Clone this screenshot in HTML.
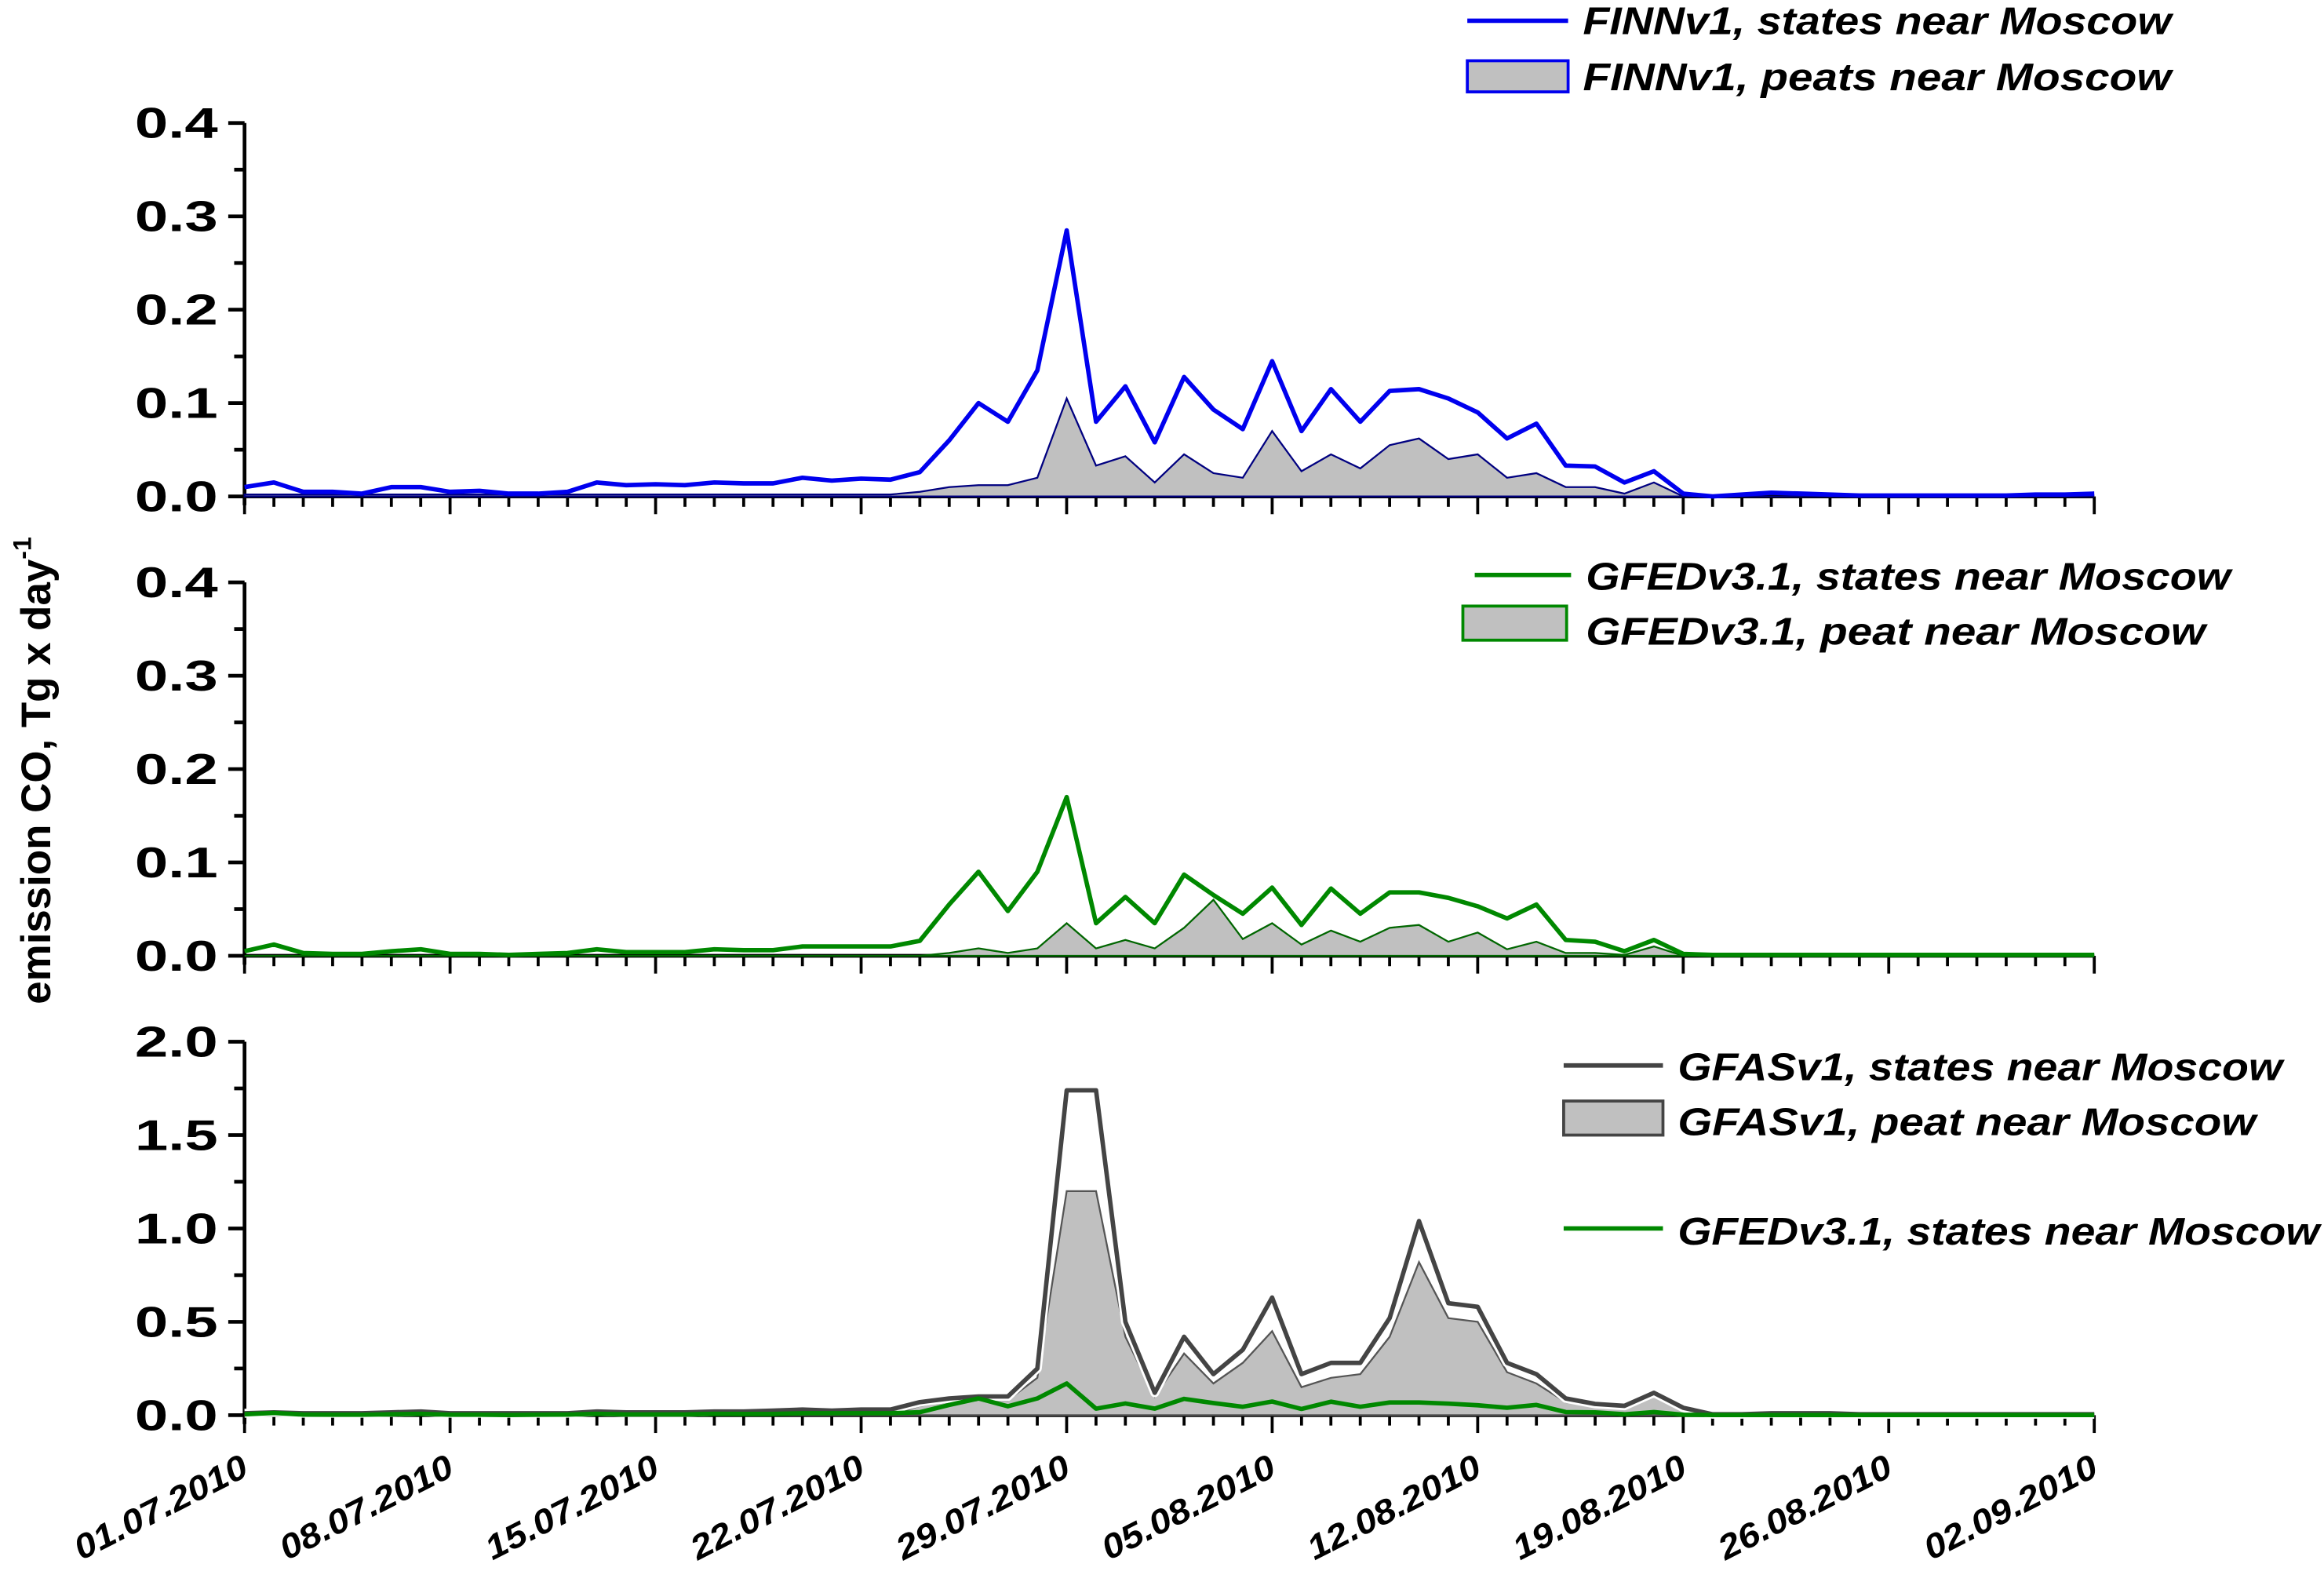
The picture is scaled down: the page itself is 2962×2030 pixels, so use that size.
<!DOCTYPE html>
<html><head><meta charset="utf-8"><style>
html,body{margin:0;padding:0;background:#fff}
svg{display:block}
text{font-family:"Liberation Sans",Arial,sans-serif;font-weight:bold}
</style></head><body>
<svg id="chart" width="2962" height="2030" viewBox="0 0 1568 1075" preserveAspectRatio="none" xmlns="http://www.w3.org/2000/svg">
<text transform="translate(34,520) rotate(-90)" text-anchor="middle" font-size="28">emission CO, Tg x day<tspan dy="-13" font-size="17">-1</tspan></text>
<g id="legends">
<line x1="990" y1="14" x2="1058" y2="14" stroke="#0000ee" stroke-width="3"/>
<text x="1068" y="23" font-size="26" font-style="italic" textLength="397" lengthAdjust="spacingAndGlyphs">FINNv1, states near Moscow</text>
<rect x="990" y="41" width="68" height="21" fill="#c0c0c0" stroke="#0000ee" stroke-width="2"/>
<text x="1068" y="61" font-size="26" font-style="italic" textLength="397" lengthAdjust="spacingAndGlyphs">FINNv1, peats  near Moscow</text>
<line x1="995" y1="388" x2="1060" y2="388" stroke="#008800" stroke-width="3"/>
<text x="1070" y="398" font-size="26" font-style="italic" textLength="435" lengthAdjust="spacingAndGlyphs">GFEDv3.1, states near Moscow</text>
<rect x="987" y="409" width="70" height="23" fill="#c0c0c0" stroke="#008800" stroke-width="2"/>
<text x="1070" y="435" font-size="26" font-style="italic" textLength="418" lengthAdjust="spacingAndGlyphs">GFEDv3.1,  peat near Moscow</text>
<line x1="1055" y1="719" x2="1122" y2="719" stroke="#444" stroke-width="3"/>
<text x="1132" y="729" font-size="26" font-style="italic" textLength="408" lengthAdjust="spacingAndGlyphs">GFASv1, states near Moscow</text>
<rect x="1055" y="743" width="67" height="23" fill="#c0c0c0" stroke="#444" stroke-width="2"/>
<text x="1132" y="766" font-size="26" font-style="italic" textLength="390" lengthAdjust="spacingAndGlyphs">GFASv1, peat  near Moscow</text>
<line x1="1055" y1="829" x2="1122" y2="829" stroke="#008800" stroke-width="3"/>
<text x="1132" y="840" font-size="26" font-style="italic" textLength="433" lengthAdjust="spacingAndGlyphs">GFEDv3.1, states near Moscow</text>
</g>
</svg>
<script>
const dateLabels=["01.07.2010","08.07.2010","15.07.2010","22.07.2010","29.07.2010","05.08.2010","12.08.2010","19.08.2010","26.08.2010","02.09.2010"];
const finnStates=[0.01,0.015,0.005,0.005,0.003,0.01,0.01,0.005,0.006,0.003,0.003,0.005,0.015,0.012,0.013,0.012,0.015,0.014,0.014,0.02,0.017,0.019,0.018,0.026,0.06,0.1,0.08,0.135,0.285,0.08,0.118,0.058,0.128,0.093,0.072,0.145,0.07,0.115,0.08,0.113,0.115,0.105,0.09,0.062,0.078,0.033,0.032,0.015,0.027,0.003,0,0.002,0.004,0.003,0.002,0.001,0.001,0.001,0.001,0.001,0.001,0.002,0.002,0.003];
const finnPeat=[0.002,0.002,0.002,0.002,0.002,0.002,0.002,0.002,0.002,0.002,0.002,0.002,0.002,0.002,0.002,0.002,0.002,0.002,0.002,0.002,0.002,0.002,0.002,0.005,0.01,0.012,0.012,0.02,0.105,0.033,0.043,0.015,0.045,0.025,0.02,0.07,0.027,0.045,0.03,0.055,0.062,0.04,0.045,0.02,0.025,0.01,0.01,0.003,0.015,0,0,0,0,0,0,0,0,0,0,0,0,0,0,0];
const gfedStates=[0.005,0.012,0.003,0.002,0.002,0.005,0.007,0.002,0.002,0.001,0.002,0.003,0.007,0.004,0.004,0.004,0.007,0.006,0.006,0.01,0.01,0.01,0.01,0.016,0.055,0.09,0.048,0.09,0.17,0.035,0.063,0.035,0.087,0.065,0.045,0.073,0.033,0.072,0.045,0.068,0.068,0.062,0.053,0.04,0.055,0.017,0.015,0.005,0.017,0.002,0.001,0.001,0.001,0.001,0.001,0.001,0.001,0.001,0.001,0.001,0.001,0.001,0.001,0.001];
const gfedPeat=[0,0,0,0,0,0,0,0,0,0,0,0,0,0,0,0,0,0,0,0,0,0,0,0,0.003,0.008,0.003,0.008,0.035,0.008,0.017,0.008,0.03,0.06,0.018,0.035,0.012,0.027,0.015,0.03,0.033,0.015,0.025,0.007,0.015,0.003,0.003,0.001,0.01,0,0,0,0,0,0,0,0,0,0,0,0,0,0,0];
const gfasStates=[0.01,0.015,0.01,0.01,0.01,0.015,0.02,0.01,0.01,0.01,0.01,0.01,0.02,0.015,0.015,0.015,0.02,0.02,0.025,0.03,0.025,0.03,0.03,0.07,0.09,0.1,0.1,0.25,1.74,1.74,0.5,0.12,0.42,0.22,0.35,0.63,0.22,0.28,0.28,0.52,1.04,0.6,0.58,0.28,0.22,0.09,0.06,0.05,0.12,0.04,0.005,0.005,0.01,0.01,0.01,0.005,0.005,0.005,0.005,0.005,0.005,0.005,0.005,0.005];
const gfasPeat=[0,0,0,0,0,0,0,0,0,0,0,0,0,0,0,0,0,0,0,0,0,0,0,0.05,0.07,0.08,0.08,0.2,1.2,1.2,0.42,0.1,0.33,0.17,0.28,0.45,0.15,0.2,0.22,0.42,0.82,0.52,0.5,0.23,0.17,0.07,0.05,0.04,0.1,0.03,0,0,0,0,0,0,0,0,0,0,0,0,0,0];
const yTicks1=["0.0","0.1","0.2","0.3","0.4"];
const yTicks3=["0.0","0.5","1.0","1.5","2.0"];

const NS="http://www.w3.org/2000/svg";
const svg=document.getElementById('chart');
const X0=165,X1=1413,NDAYS=63;
function xS(d){return X0+(X1-X0)*d/NDAYS;}
function mk(tag,attrs){const e=document.createElementNS(NS,tag);for(const k in attrs)e.setAttribute(k,attrs[k]);svg.appendChild(e);return e;}
function panel(top,bottom,ymax,ticks,name){
  const yS=v=>bottom-(bottom-top)*v/ymax;
  let a=mk('line',{x1:X0,y1:top,x2:X0,y2:bottom+6,stroke:'#000','stroke-width':2.5});
  
  
  for(let i=0;i<ticks.length;i++){
    const v=ymax*i/(ticks.length-1);
    mk('line',{x1:X0-11,y1:yS(v),x2:X0,y2:yS(v),stroke:'#000','stroke-width':2.5});
    if(i<ticks.length-1){const vm=v+ymax/(ticks.length-1)/2;mk('line',{x1:X0-7,y1:yS(vm),x2:X0,y2:yS(vm),stroke:'#000','stroke-width':2.5});}
    const t=mk('text',{x:X0-18,y:yS(v)+10,'text-anchor':'end','font-size':29,textLength:56,lengthAdjust:'spacingAndGlyphs'});
    t.textContent=ticks[i];
    
    
  }
  const xa=mk('line',{x1:X0,y1:bottom,x2:X1,y2:bottom,stroke:'#000','stroke-width':2.5});
  
  
  for(let d=0;d<=NDAYS;d++){
    const L=d%7===0?12:7;
    mk('line',{x1:xS(d),y1:bottom,x2:xS(d),y2:bottom+L,stroke:'#000','stroke-width':2});
  }
  return yS;
}
function area(vals,yS,bottom,stroke,name){
  let d='M'+xS(0)+','+bottom;
  vals.forEach((v,i)=>{d+=' L'+xS(i).toFixed(1)+','+yS(v).toFixed(1);});
  d+=' L'+xS(vals.length-1)+','+bottom+' Z';
  const p=mk('path',{d:d,fill:'#c0c0c0',stroke:stroke,'stroke-width':1.2});
  
  
}
function line(vals,yS,stroke,w,name,halo){
  const pts=vals.map((v,i)=>xS(i).toFixed(1)+','+yS(v).toFixed(1)).join(' ');
  if(halo){mk('polyline',{points:pts,fill:'none',stroke:'#fff','stroke-width':w+3,'stroke-linejoin':'round'});}
  const p=mk('polyline',{points:pts,fill:'none',stroke:stroke,'stroke-width':w,'stroke-linejoin':'round'});
  
  
}
let y1=panel(83,335,0.4,yTicks1,'finn');
area(finnPeat,y1,335,'#000080','finn-peat-area');
line(finnStates,y1,'#0000ee',3,'finn-states-line',false);
let y2=panel(393,645,0.4,yTicks1,'gfed');
area(gfedPeat,y2,645,'#006600','gfed-peat-area');
line(gfedStates,y2,'#008800',3,'gfed-states-line',false);
let y3=panel(703,955,2.0,yTicks3,'gfas');
area(gfasPeat,y3,955,'#555','gfas-peat-area');
line(gfasStates,y3,'#444',3,'gfas-states-line',true);
line(gfedStates,y3,'#008800',3,'gfas-gfed-states-line',false);
dateLabels.forEach((s,i)=>{
  const x=xS(i*7);
  const t=mk('text',{transform:'translate('+(x+4)+',995) rotate(-27)','text-anchor':'end','font-size':23,'font-style':'italic',textLength:128,lengthAdjust:'spacingAndGlyphs'});
  t.textContent=s;
  
  
});
</script>
</body></html>
